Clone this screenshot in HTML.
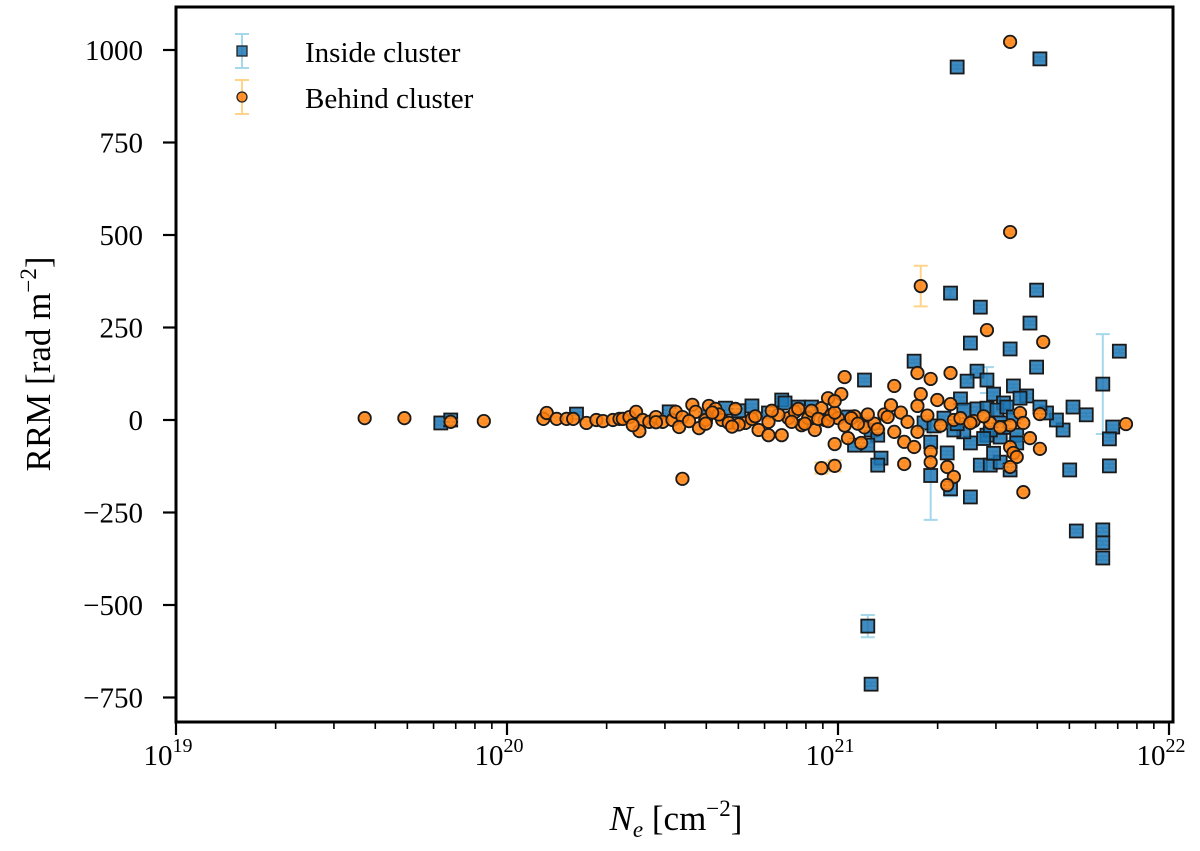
<!DOCTYPE html>
<html><head><meta charset="utf-8"><style>
html,body{margin:0;padding:0;background:#fff;}
svg text{font-family:"Liberation Serif",serif;fill:#000;}
</style></head><body>
<svg id="chart" width="1200" height="846" xmlns="http://www.w3.org/2000/svg">
<g id="marks"></g>
<rect x="176" y="7" width="997" height="715" fill="none" stroke="#000" stroke-width="3"/>
<g id="axes"></g>
<text transform="translate(50,364) rotate(-90)" text-anchor="middle" font-size="35">RRM [rad m<tspan dy="-14" font-size="23">−2</tspan><tspan dy="14">]</tspan></text>
<text x="676" y="830" text-anchor="middle" font-size="35"><tspan font-style="italic">N</tspan><tspan font-style="italic" font-size="23" dy="7">e</tspan><tspan dy="-7"> [cm</tspan><tspan dy="-14" font-size="23">−2</tspan><tspan dy="14">]</tspan></text>
<g>
 <g>
  <line x1="242" y1="34" x2="242" y2="68" stroke="#a6d8ec" stroke-width="2"/>
  <line x1="235" y1="34" x2="249" y2="34" stroke="#a6d8ec" stroke-width="2"/>
  <line x1="235" y1="68" x2="249" y2="68" stroke="#a6d8ec" stroke-width="2"/>
  <rect x="237" y="46" width="10" height="10" fill="#1f77b4" fill-opacity="0.85" stroke="#222" stroke-width="1.3"/>
  <text x="305" y="62" font-size="29">Inside cluster</text>
 </g>
 <g>
  <line x1="242" y1="80" x2="242" y2="114" stroke="#ffd48a" stroke-width="2"/>
  <line x1="235" y1="80" x2="249" y2="80" stroke="#ffd48a" stroke-width="2"/>
  <line x1="235" y1="114" x2="249" y2="114" stroke="#ffd48a" stroke-width="2"/>
  <circle cx="242" cy="97" r="5" fill="#ff7f0e" fill-opacity="0.85" stroke="#222" stroke-width="1.3"/>
  <text x="305" y="108" font-size="29">Behind cluster</text>
 </g>
</g>
</svg>
<script>
// log10(Ne) values and RRM values
const blueLogNe = [19.80,19.83,20.21,20.49,20.66,20.74,20.79,20.83,20.60,20.70,20.88,20.92,20.84,21.03,21.36,21.61,21.34,21.43,21.60,21.58,21.40,21.52,21.85,21.60,21.80,21.23,21.08,21.42,21.39,21.45,21.53,21.57,21.47,21.37,21.50,21.55,21.71,21.75,21.83,21.82,21.82,21.70,21.43,21.46,21.49,21.52,21.40,21.34,21.33,21.28,21.13,21.12,21.40,21.45,21.49,21.54,21.54,21.68,21.66,21.63,21.61,21.26,21.29,21.32,21.38,21.42,21.45,21.48,21.51,21.53,21.49,21.46,21.38,21.35,21.10,21.12,21.05,21.09,21.08,21.09,21.10,21.72,21.80,21.80,21.80,21.28,21.50,21.44,21.47,21.36];
const blueRRM   = [-8,0,16,22,32,38,19,54,10,25,35,35,46,8,954,976,343,305,351,262,208,192,186,143,97,159,108,132,105,108,92,65,70,57,46,59,35,14,-19,-51,-124,-135,-122,-122,-114,-135,-208,-186,-89,-150,-103,-122,-62,-41,-46,-41,-62,-27,0,19,35,-8,-16,5,27,30,32,27,35,8,-8,-27,-32,-27,-27,-41,-68,-68,-8,-557,-714,-300,-297,-332,-373,-60,-20,-50,-90,-10];
const blueErr   = [5,5,5,5,5,5,5,5,5,5,5,5,5,5,5,5,10,5,5,5,5,5,5,5,135,5,5,5,5,35,5,5,5,5,5,5,5,5,5,5,5,5,5,5,5,5,5,20,5,120,5,5,5,5,5,5,5,5,5,5,5,5,5,5,5,5,5,5,5,5,5,5,5,5,5,5,5,5,5,30,5,5,5,5,5,5,30,5,5,5];
const orangeLogNe = [19.57,19.69,19.83,19.93,20.11,20.12,20.15,20.18,20.20,20.24,20.27,20.29,20.32,20.34,20.35,20.37,20.39,20.41,20.40,20.43,20.45,20.47,20.50,20.51,20.53,20.56,20.52,20.57,20.58,20.60,20.61,20.63,20.65,20.67,20.69,20.72,20.74,20.76,20.79,20.79,20.83,20.85,20.53,20.87,20.89,20.91,20.93,20.95,20.96,20.98,21.00,20.82,20.86,20.88,20.90,20.92,20.94,20.97,20.99,21.02,21.05,21.08,21.11,21.14,21.52,21.52,21.25,21.45,21.62,21.02,21.17,21.34,21.24,21.28,21.01,20.97,20.99,21.30,21.34,21.16,21.24,21.25,21.55,21.61,21.87,21.35,21.41,21.46,21.52,21.56,21.17,21.24,20.99,21.03,21.07,21.20,21.23,21.28,21.58,21.61,21.52,21.53,21.54,21.52,20.95,20.99,21.20,21.28,21.33,21.35,21.33,21.56,21.04,21.06,21.09,21.12,21.15,21.19,21.21,21.27,21.31,21.37,21.40,21.44,21.49,20.60,20.64,20.70,20.75,20.80,20.45,20.38,20.55,20.62,20.68];
const orangeRRM   = [5,5,-5,-3,3,19,3,3,3,-8,0,-3,0,3,3,8,22,0,-30,-5,8,-5,0,22,8,41,-19,22,-22,0,38,30,0,-8,30,-8,3,-27,-5,-41,-41,5,-159,22,-14,5,-27,32,0,14,5,14,-5,30,-10,25,3,-3,20,-15,10,-20,-10,15,1022,508,362,243,211,116,92,127,127,111,70,59,51,54,43,40,38,70,19,16,-11,0,-3,-8,-14,-8,-32,-32,-65,-49,-62,-59,-73,-86,-49,-78,-73,-89,-100,-127,-130,-124,-119,-114,-127,-154,-176,-195,5,-10,15,-25,8,20,-5,12,-15,5,-8,10,-20,-10,15,-12,10,25,-6,-14,-3,20,-18];
const orangeErr   = [5,5,5,5,5,5,5,5,5,5,5,5,5,5,5,5,5,5,5,5,5,5,5,5,5,5,5,5,5,5,5,5,5,5,5,5,5,5,5,5,5,5,5,5,5,5,5,5,5,5,5,5,5,5,5,5,5,5,5,5,5,5,5,5,5,5,55,5,5,5,5,5,5,5,5,5,5,5,5,5,5,5,5,5,5,5,5,5,5,5,5,5,5,5,5,5,5,5,5,5,5,5,5,5,15,15,5,5,5,5,5,5,5,5,5,5,5,5,5,5,5,5,5,5,5,5,5,5,5,5,5,5,5];
const xTickExps = [19,20,21,22];
const yTicks = [-750,-500,-250,0,250,500,750,1000];

const NS='http://www.w3.org/2000/svg';
const X0=176, DEC=331;
function xs(l){return X0+(l-19)*DEC;}
function ys(v){return 420-v*0.37;}
function mk(tag,attrs,parent){const e=document.createElementNS(NS,tag);for(const k in attrs)e.setAttribute(k,attrs[k]);parent.appendChild(e);return e;}
const marks=document.getElementById('marks');
const axes=document.getElementById('axes');

function drawSeries(lx,ry,er,color,ecolor,shape,name){
  const g=mk('g',{},marks);
  
  
  for(let i=0;i<lx.length;i++){
    const x=xs(lx[i]), y1=ys(ry[i]+er[i]), y2=ys(ry[i]-er[i]);
    const eb=mk('path',{d:`M${x},${y1}V${y2}M${x-7},${y1}H${x+7}M${x-7},${y2}H${x+7}`,stroke:ecolor,'stroke-width':2,fill:'none'},g);
    
    
  }
  for(let i=0;i<lx.length;i++){
    const x=xs(lx[i]), y=ys(ry[i]);
    let m;
    if(shape==='sq') m=mk('rect',{x:x-6.5,y:y-6.5,width:13,height:13,fill:color,'fill-opacity':0.85,stroke:'#1a1a1a','stroke-width':1.8},g);
    else m=mk('circle',{cx:x,cy:y,r:6.2,fill:color,'fill-opacity':0.85,stroke:'#1a1a1a','stroke-width':1.8},g);
    
    
  }
}
drawSeries(blueLogNe,blueRRM,blueErr,'#1f77b4','#a6d8ec','sq','inside-cluster');
drawSeries(orangeLogNe,orangeRRM,orangeErr,'#ff7f0e','#ffd48a','ci','behind-cluster');

for(const e of xTickExps){
  const x=xs(e);
  const t=mk('line',{x1:x,y1:722,x2:x,y2:735,stroke:'#000','stroke-width':2.2},axes);
  
  
  const tx=mk('text',{x:x-8,y:765,'text-anchor':'middle','font-size':29},axes);
  
  
  tx.innerHTML=`10<tspan dy="-13" font-size="20">${e}</tspan>`;
  if(e<22){for(let k=2;k<10;k++){const xm=xs(e+Math.log10(k));
    const mt=mk('line',{x1:xm,y1:722,x2:xm,y2:729,stroke:'#000','stroke-width':1.6},axes);
    
    }}
}
for(const v of yTicks){
  const y=ys(v);
  const t=mk('line',{x1:163,y1:y,x2:176,y2:y,stroke:'#000','stroke-width':2.2},axes);
  
  
  const tx=mk('text',{x:143,y:y+10,'text-anchor':'end','font-size':29},axes);
  
  
  tx.textContent=v<0?'−'+Math.abs(v):String(v);
}
</script>
</body></html>
